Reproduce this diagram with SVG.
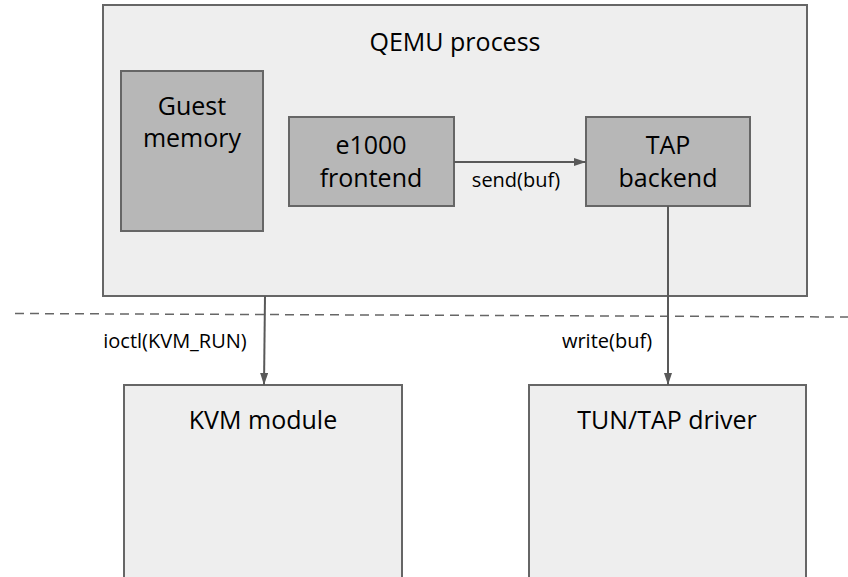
<svg xmlns="http://www.w3.org/2000/svg" width="848" height="577" viewBox="0 0 848 577">
<style>
.box{fill:#eeeeee;stroke:#666666;stroke-width:2}
.inner{fill:#b7b7b7;stroke:#666666;stroke-width:2}
.t{font-family:"Open Sans","Noto Sans",sans-serif;fill:#000;text-anchor:middle}
.big{font-size:25px}
.lbl{font-size:20px}
.conn{stroke:#595959;stroke-width:2;fill:none}
</style>
<defs>
<marker id="arrh" viewBox="0 0 12 8" refX="12" refY="4" markerWidth="12" markerHeight="8" markerUnits="userSpaceOnUse" orient="auto">
<path d="M0,0 L12,4 L0,8 z" fill="#595959"/>
</marker>
</defs>
<g id="qemu">
<rect class="box" x="103" y="5" width="704" height="291"/>
<text class="t big" x="455" y="51">QEMU process</text>
</g>
<g id="guest-memory">
<rect class="inner" x="121" y="71" width="142" height="160"/>
<text class="t big" x="192" y="115">Guest</text>
<text class="t big" x="192" y="147">memory</text>
</g>
<g id="e1000">
<rect class="inner" x="289" y="117" width="165" height="89"/>
<text class="t big" x="371" y="154">e1000</text>
<text class="t big" x="371" y="187">frontend</text>
</g>
<g id="tap-backend">
<rect class="inner" x="586" y="117" width="164" height="89"/>
<text class="t big" x="668" y="154">TAP</text>
<text class="t big" x="668" y="187">backend</text>
</g>
<g id="kvm">
<rect class="box" x="124" y="385" width="278" height="200"/>
<text class="t big" x="263" y="429">KVM module</text>
</g>
<g id="tuntap">
<rect class="box" x="529" y="385" width="277" height="200"/>
<text class="t big" x="667" y="429">TUN/TAP driver</text>
</g>
<g id="connectors">
<line x1="15" y1="313.5" x2="848" y2="317" stroke="#666666" stroke-width="1.5" stroke-dasharray="9,6"/>
<line class="conn" x1="454" y1="162" x2="586" y2="162" marker-end="url(#arrh)"/>
<text class="t lbl" x="516" y="187">send(buf)</text>
<line class="conn" x1="265" y1="296" x2="264" y2="385" marker-end="url(#arrh)"/>
<text class="t lbl" x="175" y="348">ioctl(KVM_RUN)</text>
<line class="conn" x1="668" y1="206" x2="668" y2="385" marker-end="url(#arrh)"/>
<text class="t lbl" x="607" y="348">write(buf)</text>
</g>
</svg>
